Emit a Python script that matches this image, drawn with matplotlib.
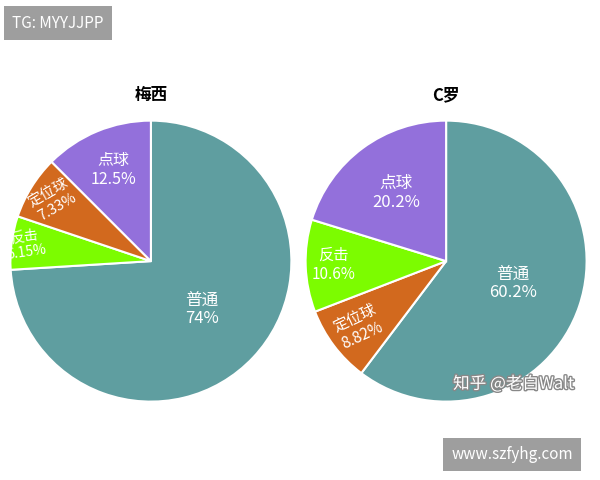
import matplotlib.pyplot as plt
import matplotlib.patheffects as pe
import numpy as np
plt.rcParams['font.family'] = ['Noto Sans CJK SC', 'DejaVu Sans']

messi_labels = ['普通', '反击', '定位球', '点球']
messi_vals = [74, 6.15, 7.33, 12.5]
messi_pct = ['74%', '6.15%', '7.33%', '12.5%']
ronaldo_labels = ['普通', '定位球', '反击', '点球']
ronaldo_vals = [60.2, 8.82, 10.6, 20.2]
ronaldo_pct = ['60.2%', '8.82%', '10.6%', '20.2%']
cmap = {'普通': '#5F9EA0', '反击': '#7CFC00', '定位球': '#D2691E', '点球': '#9370DB'}

fig = plt.figure(figsize=(6, 4.8), dpi=100)

def draw(rect, title, labels, vals, pcts, radii, rots, fs):
    ax = fig.add_axes(rect)
    wedges, _ = ax.pie(vals, colors=[cmap[l] for l in labels], startangle=90,
                       counterclock=False, wedgeprops=dict(edgecolor='white', linewidth=1.5))
    for w, l, p, r, rot, f in zip(wedges, labels, pcts, radii, rots, fs):
        a = np.deg2rad((w.theta1 + w.theta2) / 2)
        ax.text(r * np.cos(a), r * np.sin(a), f'{l}\n{p}', color='white', ha='center',
                va='center', fontsize=f, rotation=rot, linespacing=1.15)
    ax.set_xlim(-1.01, 1.01)
    ax.set_ylim(-1.01, 1.01)
    ax.set_title(title, fontsize=12, fontweight='bold', pad=14)
    ax.set_aspect('equal')

draw([0.015, 0.16, 0.473, 0.592], '梅西', messi_labels, messi_vals, messi_pct,
     [0.5, 0.9, 0.82, 0.7], [0, 8, 30, 0], [12, 10, 10.5, 11.5])
draw([0.507, 0.16, 0.473, 0.592], 'C罗', ronaldo_labels, ronaldo_vals, ronaldo_pct,
     [0.5, 0.78, 0.8, 0.6], [0, 25, 0, 0], [12, 11, 11, 12])

fig.text(0.02, 0.952, 'TG: MYYJJPP', fontsize=11, color='white', va='center',
         bbox=dict(facecolor='#9e9e9e', edgecolor='none', pad=6))
fig.text(0.755, 0.2, '知乎 @老白Walt', fontsize=12, color='white', va='center',
         path_effects=[pe.withStroke(linewidth=2, foreground='#888888')])
fig.text(0.752, 0.053, 'www.szfyhg.com', fontsize=11, color='white', va='center',
         bbox=dict(facecolor='#9e9e9e', edgecolor='none', pad=6))
fig.savefig('out.png', dpi=100)
